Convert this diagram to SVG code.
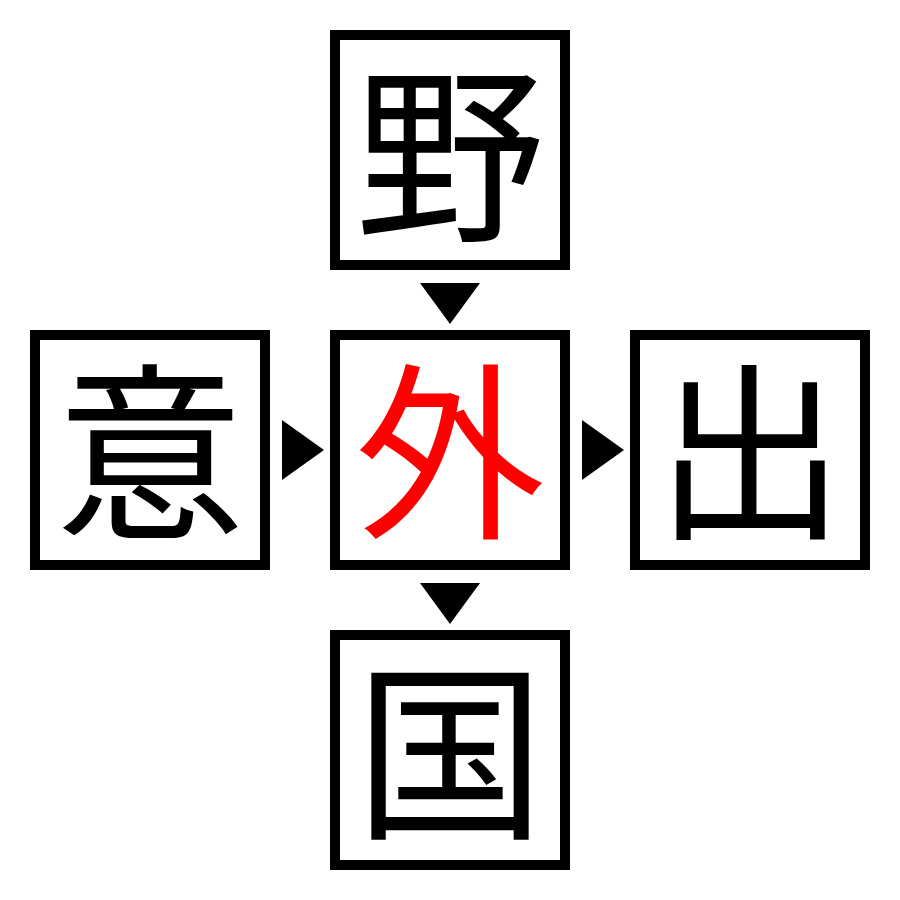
<svg xmlns="http://www.w3.org/2000/svg" width="900" height="900" viewBox="0 0 900 900">
<style>
.box{fill:#fff;stroke:#000;stroke-width:10}
.ch{font-family:"Noto Sans CJK JP","Noto Sans CJK SC",sans-serif;font-size:190px;text-anchor:middle;dominant-baseline:central;fill:#000}
.arr{fill:#000}
</style>
<rect width="900" height="900" fill="#fff"/>
<g id="node-top"><rect class="box" x="335" y="35" width="230" height="230"/><text class="ch" x="450" y="143">野</text></g>
<g id="node-left"><rect class="box" x="35" y="335" width="230" height="230"/><text class="ch" x="150" y="441">意</text></g>
<g id="node-center"><rect class="box" x="335" y="335" width="230" height="230"/><text class="ch" x="450" y="441" style="fill:#ff0000">外</text></g>
<g id="node-right"><rect class="box" x="635" y="335" width="230" height="230"/><text class="ch" x="750" y="441">出</text></g>
<g id="node-bottom"><rect class="box" x="335" y="635" width="230" height="230"/><text class="ch" x="450" y="741">国</text></g>
<g id="connectors">
<polygon class="arr" points="420,283 480,283 450,324"/>
<polygon class="arr" points="282,420 324,450 282,480"/>
<polygon class="arr" points="582,420 624,450 582,480"/>
<polygon class="arr" points="420,583 480,583 450,624"/>
</g>
</svg>
